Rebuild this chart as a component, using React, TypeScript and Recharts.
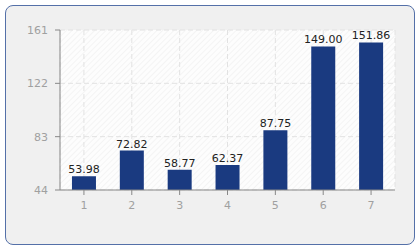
import { BarChart, Bar, XAxis, YAxis, CartesianGrid, LabelList } from "recharts";

const categories = ["1", "2", "3", "4", "5", "6", "7"];
const values = [53.98, 72.82, 58.77, 62.37, 87.75, 149.0, 151.86];
const yTicks = [44, 83, 122, 161];

const data = categories.map((c, i) => ({ name: c, value: values[i] }));

const tickStyle = { fill: "#a0a0a0", fontSize: 11, fontFamily: "DejaVu Sans, Verdana, sans-serif" };

export default function App() {
  return (
    <div style={{ position: "absolute", left: 0, top: 0, width: 420, height: 250 }}>
      <div
        style={{
          position: "absolute",
          left: 5,
          top: 5,
          width: 408,
          height: 238,
          border: "1px solid #5470a8",
          borderRadius: 8,
          background: "#f0f0f0",
        }}
      />
      <div style={{ position: "absolute", left: 0, top: 0 }}>
        <BarChart
          width={420}
          height={250}
          data={data}
          margin={{ top: 30, right: 25, left: 0, bottom: 30 }}
          barCategoryGap="25%"
        >
          <defs>
            <pattern id="hatch" width="4" height="4" patternUnits="userSpaceOnUse" patternTransform="rotate(45)">
              <rect width="4" height="4" fill="#fdfdfd" />
              <line x1="0" y1="0" x2="0" y2="4" stroke="#ececec" strokeWidth="1" />
            </pattern>
          </defs>
          <CartesianGrid
            fill="url(#hatch)"
            stroke="#e2e2e2"
            strokeDasharray="5 3"
          />
          <XAxis
            dataKey="name"
            stroke="#888"
            tick={{ ...tickStyle, dy: 4 }}
            tickSize={5}
            height={30}
          />
          <YAxis
            domain={[44, 161]}
            ticks={yTicks}
            stroke="#888"
            tick={{ ...tickStyle, dx: -5 }}
            tickSize={5}
            width={60}
            allowDataOverflow
          />
          <Bar dataKey="value" fill="#1a3a80" isAnimationActive={false}>
            <LabelList
              dataKey="value"
              position="top"
              offset={3}
              formatter={(v: number) => v.toFixed(2)}
              style={{ fill: "#222", fontSize: 11, fontFamily: "DejaVu Sans, Verdana, sans-serif" }}
            />
          </Bar>
        </BarChart>
      </div>
    </div>
  );
}
